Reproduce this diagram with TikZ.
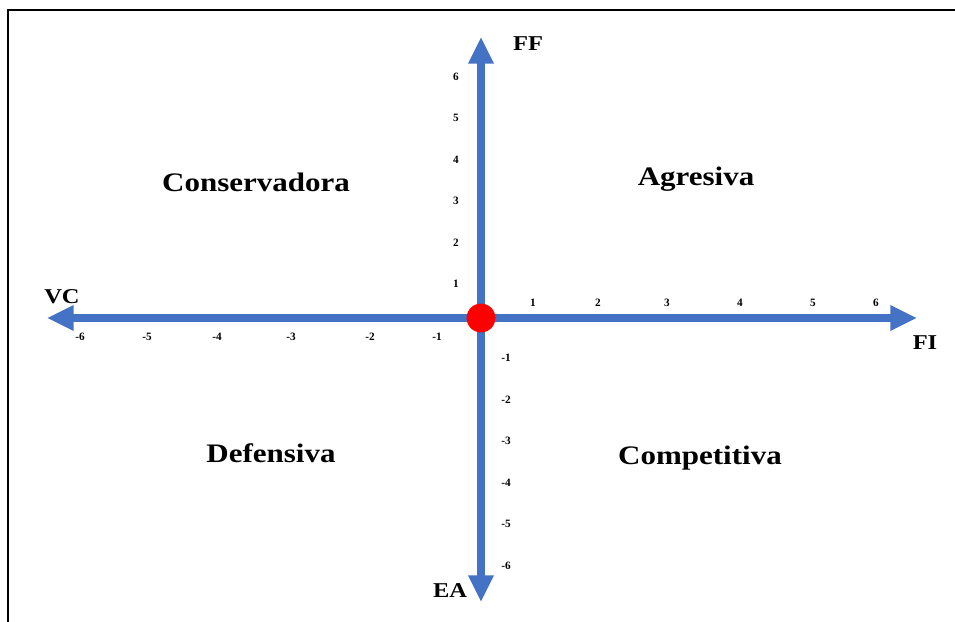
\documentclass[tikz,border=0pt]{standalone}
\usepackage{fontspec}
\setmainfont{Liberation Serif}
\newfontfamily\widefont[FakeStretch=1.16]{Liberation Serif}
\usetikzlibrary{arrows.meta, positioning}
\definecolor{axisblue}{RGB}{68,114,196}
\definecolor{dotred}{RGB}{255,0,0}

\tikzset{
  axis/.style={draw=axisblue, line width=5.7pt, -{Triangle[length=19pt, width=17pt]}},
  dot/.style={circle, fill=dotred, minimum size=20.5pt, inner sep=0pt},
  quad/.style={font=\widefont\fontsize{19}{22}\selectfont\bfseries},
  axlabel/.style={font=\widefont\fontsize{15}{18}\selectfont\bfseries},
  tick/.style={font=\fontsize{8}{9}\selectfont\bfseries, inner sep=0pt}
}

\begin{document}
\begin{tikzpicture}[x=0.025cm, y=-0.025cm]
      \useasboundingbox (0,0) rectangle (955,622);
      \draw[line width=1.4pt] (955,10) -| (8,622);

      \coordinate (O) at (481,318);
      \coordinate (W) at (47,318);
      \coordinate (E) at (917,318);
      \coordinate (N) at (481,37);
      \coordinate (S) at (481,602);
      \draw[axis] (O) -- (E);
      \draw[axis] (O) -- (W);
      \draw[axis] (O) -- (N);
      \draw[axis] (O) -- (S);
      \node[dot] (origin) at (O) {};

      \draw (528,44) node[axlabel] (FF) {FF} (62,297) node[axlabel] (VC) {VC}
      (925,343) node[axlabel] (FI) {FI} (450,591) node[axlabel] (EA) {EA};

      % horizontal ticks
      \draw (533,303) node[tick] (x1) {1} (598,303) node[tick] (x2) {2} (667,303) node[tick] (x3) {3}
      (740,303) node[tick] (x4) {4} (813,303) node[tick] (x5) {5} (876,303) node[tick] (x6) {6};
      \draw (80,337) node[tick] (xm6) {-6} (147,337) node[tick] (xm5) {-5} (217,337) node[tick] (xm4) {-4}
      (291,337) node[tick] (xm3) {-3} (370,337) node[tick] (xm2) {-2} (437,337) node[tick] (xm1) {-1};

      % vertical ticks
      \draw (456,77) node[tick] (y6) {6} (456,118) node[tick] (y5) {5} (456,160) node[tick] (y4) {4}
      (456,201) node[tick] (y3) {3} (456,243) node[tick] (y2) {2} (456,284) node[tick] (y1) {1};
      \draw (506,358) node[tick] (ym1) {-1} (506,400) node[tick] (ym2) {-2} (506,441) node[tick] (ym3) {-3}
      (506,483) node[tick] (ym4) {-4} (506,524) node[tick] (ym5) {-5} (506,566) node[tick] (ym6) {-6};

      \node[quad] (cons) at (256,182) {Conservadora};
      \node[quad] (agr) at (696,179) {Agresiva};
      \node[quad] (def) at (271,453) {Defensiva};
      \node[quad] (comp) at (700,458) {Competitiva};
    \end{tikzpicture}
\end{document}
